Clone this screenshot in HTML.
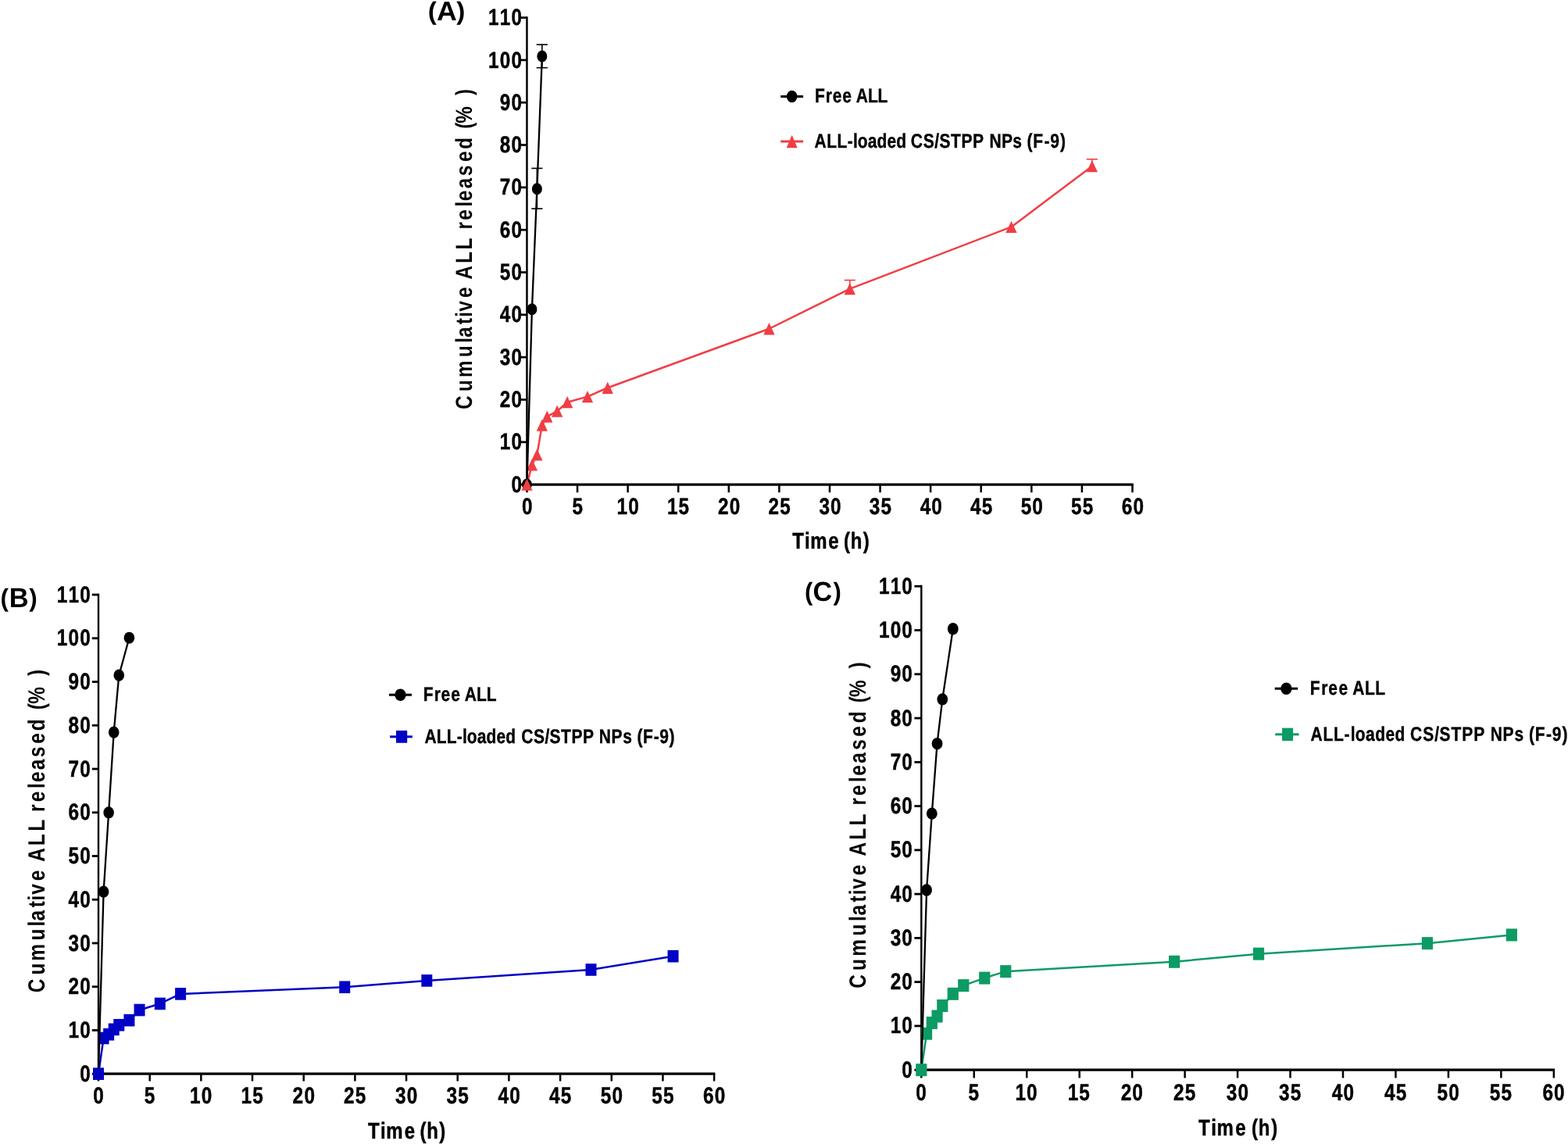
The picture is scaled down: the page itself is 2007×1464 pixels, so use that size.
<!DOCTYPE html>
<html lang="en"><head><meta charset="utf-8"><title>Cumulative ALL released - release profiles</title>
<style>html,body{margin:0;padding:0;background:#fff}body{width:2007px;height:1464px;overflow:hidden}svg{display:block}text{font-family:"Liberation Sans", sans-serif;font-weight:700;white-space:pre;text-rendering:geometricPrecision}</style></head><body>
<svg xmlns="http://www.w3.org/2000/svg" width="2007" height="1464" viewBox="0 0 2007 1464">
<rect width="2007" height="1464" fill="#fff"/>
<g>
<line x1="674.45" y1="21.23" x2="674.45" y2="621.75" stroke="#000" stroke-width="2.5"/>
<line x1="673.2" y1="620.1" x2="1450.72" y2="620.1" stroke="#000" stroke-width="3.3"/>
<line x1="666.55" y1="620.1" x2="674.45" y2="620.1" stroke="#000" stroke-width="2.7"/>
<line x1="666.55" y1="565.78" x2="674.45" y2="565.78" stroke="#000" stroke-width="2.7"/>
<line x1="666.55" y1="511.46" x2="674.45" y2="511.46" stroke="#000" stroke-width="2.7"/>
<line x1="666.55" y1="457.14" x2="674.45" y2="457.14" stroke="#000" stroke-width="2.7"/>
<line x1="666.55" y1="402.82" x2="674.45" y2="402.82" stroke="#000" stroke-width="2.7"/>
<line x1="666.55" y1="348.5" x2="674.45" y2="348.5" stroke="#000" stroke-width="2.7"/>
<line x1="666.55" y1="294.18" x2="674.45" y2="294.18" stroke="#000" stroke-width="2.7"/>
<line x1="666.55" y1="239.86" x2="674.45" y2="239.86" stroke="#000" stroke-width="2.7"/>
<line x1="666.55" y1="185.54" x2="674.45" y2="185.54" stroke="#000" stroke-width="2.7"/>
<line x1="666.55" y1="131.22" x2="674.45" y2="131.22" stroke="#000" stroke-width="2.7"/>
<line x1="666.55" y1="76.9" x2="674.45" y2="76.9" stroke="#000" stroke-width="2.7"/>
<line x1="666.55" y1="22.58" x2="674.45" y2="22.58" stroke="#000" stroke-width="2.7"/>
<line x1="674.45" y1="620.1" x2="674.45" y2="630.2" stroke="#000" stroke-width="2.5"/>
<line x1="739.04" y1="620.1" x2="739.04" y2="630.2" stroke="#000" stroke-width="2.5"/>
<line x1="803.62" y1="620.1" x2="803.62" y2="630.2" stroke="#000" stroke-width="2.5"/>
<line x1="868.21" y1="620.1" x2="868.21" y2="630.2" stroke="#000" stroke-width="2.5"/>
<line x1="932.79" y1="620.1" x2="932.79" y2="630.2" stroke="#000" stroke-width="2.5"/>
<line x1="997.38" y1="620.1" x2="997.38" y2="630.2" stroke="#000" stroke-width="2.5"/>
<line x1="1061.96" y1="620.1" x2="1061.96" y2="630.2" stroke="#000" stroke-width="2.5"/>
<line x1="1126.55" y1="620.1" x2="1126.55" y2="630.2" stroke="#000" stroke-width="2.5"/>
<line x1="1191.13" y1="620.1" x2="1191.13" y2="630.2" stroke="#000" stroke-width="2.5"/>
<line x1="1255.72" y1="620.1" x2="1255.72" y2="630.2" stroke="#000" stroke-width="2.5"/>
<line x1="1320.3" y1="620.1" x2="1320.3" y2="630.2" stroke="#000" stroke-width="2.5"/>
<line x1="1384.88" y1="620.1" x2="1384.88" y2="630.2" stroke="#000" stroke-width="2.5"/>
<line x1="1449.47" y1="620.1" x2="1449.47" y2="630.2" stroke="#000" stroke-width="2.5"/>
<text transform="translate(654.4 629.7) scale(0.82 1)" font-size="29.6" x="0" stroke="#000" stroke-width="0.5">0</text>
<text transform="translate(639.75 575.38) scale(0.82 1)" font-size="29.6" x="0 17.87" stroke="#000" stroke-width="0.5">10</text>
<text transform="translate(639.75 521.06) scale(0.82 1)" font-size="29.6" x="0 17.87" stroke="#000" stroke-width="0.5">20</text>
<text transform="translate(639.75 466.74) scale(0.82 1)" font-size="29.6" x="0 17.87" stroke="#000" stroke-width="0.5">30</text>
<text transform="translate(639.75 412.42) scale(0.82 1)" font-size="29.6" x="0 17.87" stroke="#000" stroke-width="0.5">40</text>
<text transform="translate(639.75 358.1) scale(0.82 1)" font-size="29.6" x="0 17.87" stroke="#000" stroke-width="0.5">50</text>
<text transform="translate(639.75 303.78) scale(0.82 1)" font-size="29.6" x="0 17.87" stroke="#000" stroke-width="0.5">60</text>
<text transform="translate(639.75 249.46) scale(0.82 1)" font-size="29.6" x="0 17.87" stroke="#000" stroke-width="0.5">70</text>
<text transform="translate(639.75 195.14) scale(0.82 1)" font-size="29.6" x="0 17.87" stroke="#000" stroke-width="0.5">80</text>
<text transform="translate(639.75 140.82) scale(0.82 1)" font-size="29.6" x="0 17.87" stroke="#000" stroke-width="0.5">90</text>
<text transform="translate(625.1 86.5) scale(0.82 1)" font-size="29.6" x="0 17.87 35.74" stroke="#000" stroke-width="0.5">100</text>
<text transform="translate(625.1 32.18) scale(0.82 1)" font-size="29.6" x="0 17.87 35.74" stroke="#000" stroke-width="0.5">110</text>
<text transform="translate(668.01 658.1) scale(0.82 1)" font-size="29.6" x="0" stroke="#000" stroke-width="0.5">0</text>
<text transform="translate(732.54 658.1) scale(0.82 1)" font-size="29.6" x="0" stroke="#000" stroke-width="0.5">5</text>
<text transform="translate(789.56 658.1) scale(0.82 1)" font-size="29.6" x="0 17.87" stroke="#000" stroke-width="0.5">10</text>
<text transform="translate(853.96 658.1) scale(0.82 1)" font-size="29.6" x="0 17.87" stroke="#000" stroke-width="0.5">15</text>
<text transform="translate(919.09 658.1) scale(0.82 1)" font-size="29.6" x="0 17.87" stroke="#000" stroke-width="0.5">20</text>
<text transform="translate(983.49 658.1) scale(0.82 1)" font-size="29.6" x="0 17.87" stroke="#000" stroke-width="0.5">25</text>
<text transform="translate(1048.38 658.1) scale(0.82 1)" font-size="29.6" x="0 17.87" stroke="#000" stroke-width="0.5">30</text>
<text transform="translate(1112.78 658.1) scale(0.82 1)" font-size="29.6" x="0 17.87" stroke="#000" stroke-width="0.5">35</text>
<text transform="translate(1177.67 658.1) scale(0.82 1)" font-size="29.6" x="0 17.87" stroke="#000" stroke-width="0.5">40</text>
<text transform="translate(1242.07 658.1) scale(0.82 1)" font-size="29.6" x="0 17.87" stroke="#000" stroke-width="0.5">45</text>
<text transform="translate(1306.66 658.1) scale(0.82 1)" font-size="29.6" x="0 17.87" stroke="#000" stroke-width="0.5">50</text>
<text transform="translate(1371.06 658.1) scale(0.82 1)" font-size="29.6" x="0 17.87" stroke="#000" stroke-width="0.5">55</text>
<text transform="translate(1435.77 658.1) scale(0.82 1)" font-size="29.6" x="0 17.87" stroke="#000" stroke-width="0.5">60</text>
<text transform="translate(1014.16 701.7) scale(0.82 1)" font-size="29.2" x="0 19.31 28.1 56.21 72.45 80.3 90.96 110.51" stroke="#000" stroke-width="0.5">Time (h)</text>
<text transform="translate(604.3 528) rotate(-90) scale(0.815 1)" font-size="29.7" x="5.28 33.1 55.25 87.09 109.66 117.97 138.54 149.9 159 180.46 196.98 209.12 234.78 256.25 274.39 287.88 302.24 323.34 332.11 351.78 371.77 393.77 413.89 432.03 445.58 454.33 480.74 498.09">Cumulative ALL released (% )</text>
<text transform="translate(547.68 25.9) scale(1.04 1)" font-size="34.4"><tspan x="0" y="-0.5" font-size="32">(</tspan><tspan x="10.86" y="0">A</tspan><tspan x="35.19" y="-0.5" font-size="32">)</tspan></text>
<polyline points="674.45,620.1 680.91,594.9 687.37,581.86 693.83,544.16 700.28,533.19 713.2,526.13 726.12,514.72 751.95,507.66 777.79,496.25 984.46,420.75 1087.79,369.68 1294.47,290.38 1397.8,212.7" fill="none" stroke="#f03e44" stroke-width="2.5" stroke-linejoin="round"/>
<line x1="1087.79" y1="369.68" x2="1087.79" y2="358.55" stroke="#f03e44" stroke-width="1.6"/>
<line x1="1080.69" y1="358.55" x2="1094.89" y2="358.55" stroke="#f03e44" stroke-width="1.6"/>
<line x1="1397.8" y1="212.7" x2="1397.8" y2="203.74" stroke="#f03e44" stroke-width="1.6"/>
<line x1="1390.7" y1="203.74" x2="1404.9" y2="203.74" stroke="#f03e44" stroke-width="1.6"/>
<polygon points="680.91,587.25 688.06,602.55 673.76,602.55" fill="#f03e44"/>
<polygon points="687.37,574.21 694.52,589.51 680.22,589.51" fill="#f03e44"/>
<polygon points="693.83,536.51 700.98,551.81 686.68,551.81" fill="#f03e44"/>
<polygon points="700.28,525.54 707.43,540.84 693.13,540.84" fill="#f03e44"/>
<polygon points="713.2,518.48 720.35,533.78 706.05,533.78" fill="#f03e44"/>
<polygon points="726.12,507.07 733.27,522.37 718.97,522.37" fill="#f03e44"/>
<polygon points="751.95,500.01 759.1,515.31 744.8,515.31" fill="#f03e44"/>
<polygon points="777.79,488.6 784.94,503.9 770.64,503.9" fill="#f03e44"/>
<polygon points="984.46,413.1 991.61,428.4 977.31,428.4" fill="#f03e44"/>
<polygon points="1087.79,362.03 1094.94,377.33 1080.64,377.33" fill="#f03e44"/>
<polygon points="1294.47,282.73 1301.62,298.03 1287.32,298.03" fill="#f03e44"/>
<polygon points="1397.8,205.05 1404.95,220.35 1390.65,220.35" fill="#f03e44"/>
<polyline points="674.45,620.1 680.91,395.76 687.37,241.71 693.83,72.01" fill="none" stroke="#000" stroke-width="2.3" stroke-linejoin="round"/>
<line x1="687.37" y1="267.02" x2="687.37" y2="215.42" stroke="#000" stroke-width="1.6"/>
<line x1="680.27" y1="267.02" x2="694.47" y2="267.02" stroke="#000" stroke-width="1.6"/>
<line x1="680.27" y1="215.42" x2="694.47" y2="215.42" stroke="#000" stroke-width="1.6"/>
<line x1="693.83" y1="86.68" x2="693.83" y2="57.07" stroke="#000" stroke-width="1.6"/>
<line x1="686.73" y1="86.68" x2="700.93" y2="86.68" stroke="#000" stroke-width="1.6"/>
<line x1="686.73" y1="57.07" x2="700.93" y2="57.07" stroke="#000" stroke-width="1.6"/>
<ellipse cx="680.91" cy="395.76" rx="6.5" ry="7.5" fill="#000"/>
<ellipse cx="687.37" cy="241.71" rx="6.5" ry="7.5" fill="#000"/>
<ellipse cx="693.83" cy="72.01" rx="6.5" ry="7.5" fill="#000"/>
<ellipse cx="674.45" cy="620.1" rx="6.5" ry="7.5" fill="#000"/>
<polygon points="674.45,612.45 681.6,627.75 667.3,627.75" fill="#f03e44"/>
<line x1="999.2" y1="123.5" x2="1028.1" y2="123.5" stroke="#000" stroke-width="3"/>
<ellipse cx="1013.65" cy="123.5" rx="6.8" ry="7.8" fill="#000"/>
<line x1="999.2" y1="181" x2="1028.1" y2="181" stroke="#f03e44" stroke-width="3"/>
<polygon points="1013.65,172.85 1020.65,189.15 1006.65,189.15" fill="#f03e44"/>
<text transform="translate(1042.94 131.1) scale(0.82 1)" font-size="25.6" x="0 16.92 27.7 43.11 57.35 64.56 82.89 98.4" stroke="#000" stroke-width="0.4">Free ALL</text>
<text transform="translate(1042.53 188.6) scale(0.82 1)" font-size="25.6" x="0 19.11 35.28 51.44 60.31 67.48 83.24 97.58 113.34 127.69 143.33 150.41 169.72 187.56 194.99 212.83 229.17 247.01 264.08 273.06 291.99 309.47 323.71 331.74 341.16 358.44 367.86 383.59" stroke="#000" stroke-width="0.4">ALL-loaded CS/STPP NPs (F-9)</text>
</g>
<g>
<line x1="126" y1="759.66" x2="126" y2="1375.85" stroke="#000" stroke-width="2.4"/>
<line x1="124.8" y1="1374.2" x2="915.35" y2="1374.2" stroke="#000" stroke-width="3.3"/>
<line x1="117.8" y1="1374.2" x2="126" y2="1374.2" stroke="#000" stroke-width="2.8"/>
<line x1="117.8" y1="1318.46" x2="126" y2="1318.46" stroke="#000" stroke-width="2.8"/>
<line x1="117.8" y1="1262.72" x2="126" y2="1262.72" stroke="#000" stroke-width="2.8"/>
<line x1="117.8" y1="1206.98" x2="126" y2="1206.98" stroke="#000" stroke-width="2.8"/>
<line x1="117.8" y1="1151.24" x2="126" y2="1151.24" stroke="#000" stroke-width="2.8"/>
<line x1="117.8" y1="1095.5" x2="126" y2="1095.5" stroke="#000" stroke-width="2.8"/>
<line x1="117.8" y1="1039.76" x2="126" y2="1039.76" stroke="#000" stroke-width="2.8"/>
<line x1="117.8" y1="984.02" x2="126" y2="984.02" stroke="#000" stroke-width="2.8"/>
<line x1="117.8" y1="928.28" x2="126" y2="928.28" stroke="#000" stroke-width="2.8"/>
<line x1="117.8" y1="872.54" x2="126" y2="872.54" stroke="#000" stroke-width="2.8"/>
<line x1="117.8" y1="816.8" x2="126" y2="816.8" stroke="#000" stroke-width="2.8"/>
<line x1="117.8" y1="761.06" x2="126" y2="761.06" stroke="#000" stroke-width="2.8"/>
<line x1="126" y1="1374.2" x2="126" y2="1383.6" stroke="#000" stroke-width="2.5"/>
<line x1="191.68" y1="1374.2" x2="191.68" y2="1383.6" stroke="#000" stroke-width="2.5"/>
<line x1="257.35" y1="1374.2" x2="257.35" y2="1383.6" stroke="#000" stroke-width="2.5"/>
<line x1="323.02" y1="1374.2" x2="323.02" y2="1383.6" stroke="#000" stroke-width="2.5"/>
<line x1="388.7" y1="1374.2" x2="388.7" y2="1383.6" stroke="#000" stroke-width="2.5"/>
<line x1="454.38" y1="1374.2" x2="454.38" y2="1383.6" stroke="#000" stroke-width="2.5"/>
<line x1="520.05" y1="1374.2" x2="520.05" y2="1383.6" stroke="#000" stroke-width="2.5"/>
<line x1="585.72" y1="1374.2" x2="585.72" y2="1383.6" stroke="#000" stroke-width="2.5"/>
<line x1="651.4" y1="1374.2" x2="651.4" y2="1383.6" stroke="#000" stroke-width="2.5"/>
<line x1="717.08" y1="1374.2" x2="717.08" y2="1383.6" stroke="#000" stroke-width="2.5"/>
<line x1="782.75" y1="1374.2" x2="782.75" y2="1383.6" stroke="#000" stroke-width="2.5"/>
<line x1="848.42" y1="1374.2" x2="848.42" y2="1383.6" stroke="#000" stroke-width="2.5"/>
<line x1="914.1" y1="1374.2" x2="914.1" y2="1383.6" stroke="#000" stroke-width="2.5"/>
<text transform="translate(102.36 1383.75) scale(0.82 1)" font-size="29.7" x="0" stroke="#000" stroke-width="0.5">0</text>
<text transform="translate(87.57 1328.01) scale(0.82 1)" font-size="29.7" x="0 18.03" stroke="#000" stroke-width="0.5">10</text>
<text transform="translate(87.57 1272.27) scale(0.82 1)" font-size="29.7" x="0 18.03" stroke="#000" stroke-width="0.5">20</text>
<text transform="translate(87.57 1216.53) scale(0.82 1)" font-size="29.7" x="0 18.03" stroke="#000" stroke-width="0.5">30</text>
<text transform="translate(87.57 1160.79) scale(0.82 1)" font-size="29.7" x="0 18.03" stroke="#000" stroke-width="0.5">40</text>
<text transform="translate(87.57 1105.05) scale(0.82 1)" font-size="29.7" x="0 18.03" stroke="#000" stroke-width="0.5">50</text>
<text transform="translate(87.57 1049.31) scale(0.82 1)" font-size="29.7" x="0 18.03" stroke="#000" stroke-width="0.5">60</text>
<text transform="translate(87.57 993.57) scale(0.82 1)" font-size="29.7" x="0 18.03" stroke="#000" stroke-width="0.5">70</text>
<text transform="translate(87.57 937.83) scale(0.82 1)" font-size="29.7" x="0 18.03" stroke="#000" stroke-width="0.5">80</text>
<text transform="translate(87.57 882.09) scale(0.82 1)" font-size="29.7" x="0 18.03" stroke="#000" stroke-width="0.5">90</text>
<text transform="translate(72.79 826.35) scale(0.82 1)" font-size="29.7" x="0 18.03 36.06" stroke="#000" stroke-width="0.5">100</text>
<text transform="translate(72.79 770.61) scale(0.82 1)" font-size="29.7" x="0 18.03 36.06" stroke="#000" stroke-width="0.5">110</text>
<text transform="translate(119.24 1412.1) scale(0.82 1)" font-size="29.7" x="0" stroke="#000" stroke-width="0.5">0</text>
<text transform="translate(184.86 1412.1) scale(0.82 1)" font-size="29.7" x="0" stroke="#000" stroke-width="0.5">5</text>
<text transform="translate(242.9 1412.1) scale(0.82 1)" font-size="29.7" x="0 18.03" stroke="#000" stroke-width="0.5">10</text>
<text transform="translate(308.39 1412.1) scale(0.82 1)" font-size="29.7" x="0 18.03" stroke="#000" stroke-width="0.5">15</text>
<text transform="translate(374.61 1412.1) scale(0.82 1)" font-size="29.7" x="0 18.03" stroke="#000" stroke-width="0.5">20</text>
<text transform="translate(440.1 1412.1) scale(0.82 1)" font-size="29.7" x="0 18.03" stroke="#000" stroke-width="0.5">25</text>
<text transform="translate(506.08 1412.1) scale(0.82 1)" font-size="29.7" x="0 18.03" stroke="#000" stroke-width="0.5">30</text>
<text transform="translate(571.57 1412.1) scale(0.82 1)" font-size="29.7" x="0 18.03" stroke="#000" stroke-width="0.5">35</text>
<text transform="translate(637.55 1412.1) scale(0.82 1)" font-size="29.7" x="0 18.03" stroke="#000" stroke-width="0.5">40</text>
<text transform="translate(703.05 1412.1) scale(0.82 1)" font-size="29.7" x="0 18.03" stroke="#000" stroke-width="0.5">45</text>
<text transform="translate(768.72 1412.1) scale(0.82 1)" font-size="29.7" x="0 18.03" stroke="#000" stroke-width="0.5">50</text>
<text transform="translate(834.21 1412.1) scale(0.82 1)" font-size="29.7" x="0 18.03" stroke="#000" stroke-width="0.5">55</text>
<text transform="translate(900.01 1412.1) scale(0.82 1)" font-size="29.7" x="0 18.03" stroke="#000" stroke-width="0.5">60</text>
<text transform="translate(471.06 1456.65) scale(0.82 1)" font-size="29.2" x="0 19.52 28.4 56.82 73.06 80.91 91.56 111.12" stroke="#000" stroke-width="0.5">Time (h)</text>
<text transform="translate(57 1274.45) rotate(-90) scale(0.815 1)" font-size="30" x="5.2 33.01 54.87 86.94 109.19 117.82 138.76 149.74 159.22 180.62 197.3 210.67 235.82 258.48 276.81 289.04 304.42 325.81 335.47 354.82 374.94 395.83 416.13 434.46 449.21 458.43 485.1 502.28">Cumulative ALL released (% )</text>
<text transform="translate(0.39 776.6) scale(0.98 1)" font-size="35.2"><tspan x="0" y="-0.9" font-size="32">(</tspan><tspan x="11.58" y="0">B</tspan><tspan x="37.51" y="-0.9" font-size="32">)</tspan></text>
<polyline points="126,1374.2 132.57,1328.49 139.13,1323.76 145.7,1317.35 152.27,1311.77 165.41,1305.64 178.54,1292.54 204.81,1284.46 231.08,1271.92 441.24,1263.28 546.32,1254.92 756.48,1240.98 861.56,1223.7" fill="none" stroke="#0202c4" stroke-width="2.5" stroke-linejoin="round"/>
<rect x="125.57" y="1320.69" width="14" height="15.6" fill="#0202c4"/>
<rect x="132.13" y="1315.96" width="14" height="15.6" fill="#0202c4"/>
<rect x="138.7" y="1309.55" width="14" height="15.6" fill="#0202c4"/>
<rect x="145.27" y="1303.97" width="14" height="15.6" fill="#0202c4"/>
<rect x="158.41" y="1297.84" width="14" height="15.6" fill="#0202c4"/>
<rect x="171.54" y="1284.74" width="14" height="15.6" fill="#0202c4"/>
<rect x="197.81" y="1276.66" width="14" height="15.6" fill="#0202c4"/>
<rect x="224.08" y="1264.12" width="14" height="15.6" fill="#0202c4"/>
<rect x="434.24" y="1255.48" width="14" height="15.6" fill="#0202c4"/>
<rect x="539.32" y="1247.12" width="14" height="15.6" fill="#0202c4"/>
<rect x="749.48" y="1233.18" width="14" height="15.6" fill="#0202c4"/>
<rect x="854.56" y="1215.9" width="14" height="15.6" fill="#0202c4"/>
<polyline points="126,1374.2 132.57,1141.21 139.13,1039.76 145.7,937.2 152.27,864.18 165.41,816.24" fill="none" stroke="#000" stroke-width="2.3" stroke-linejoin="round"/>
<ellipse cx="132.57" cy="1141.21" rx="6.8" ry="7.6" fill="#000"/>
<ellipse cx="139.13" cy="1039.76" rx="6.8" ry="7.6" fill="#000"/>
<ellipse cx="145.7" cy="937.2" rx="6.8" ry="7.6" fill="#000"/>
<ellipse cx="152.27" cy="864.18" rx="6.8" ry="7.6" fill="#000"/>
<ellipse cx="165.41" cy="816.24" rx="6.8" ry="7.6" fill="#000"/>
<rect x="119" y="1366.4" width="14" height="15.6" fill="#0202c4"/>
<line x1="498" y1="889.2" x2="527" y2="889.2" stroke="#000" stroke-width="3"/>
<ellipse cx="512.5" cy="889.2" rx="7.2" ry="7.8" fill="#000"/>
<line x1="499.1" y1="942.8" x2="527.9" y2="942.8" stroke="#0202c4" stroke-width="3"/>
<rect x="507" y="934.9" width="14.2" height="15.8" fill="#0202c4"/>
<text transform="translate(541.74 897) scale(0.82 1)" font-size="25.6" x="0 16.99 27.82 43.29 57.53 64.77 83.19 98.77" stroke="#000" stroke-width="0.4">Free ALL</text>
<text transform="translate(543.38 950.6) scale(0.82 1)" font-size="25.6" x="0 18.73 34.57 50.41 59.27 66.45 82.21 96.57 112.33 126.69 142.33 150.96 170.17 187.92 195.32 213.06 229.32 247.07 264.14 272.51 291.76 309.53 323.77 331.8 340.92 357.65 366.77 382" stroke="#000" stroke-width="0.4">ALL-loaded CS/STPP NPs (F-9)</text>
</g>
<g>
<line x1="1179.3" y1="748.83" x2="1179.3" y2="1370.85" stroke="#000" stroke-width="2.4"/>
<line x1="1178.1" y1="1369.2" x2="1990.07" y2="1369.2" stroke="#000" stroke-width="3.3"/>
<line x1="1170.4" y1="1369.2" x2="1179.3" y2="1369.2" stroke="#000" stroke-width="2.8"/>
<line x1="1170.4" y1="1312.93" x2="1179.3" y2="1312.93" stroke="#000" stroke-width="2.8"/>
<line x1="1170.4" y1="1256.66" x2="1179.3" y2="1256.66" stroke="#000" stroke-width="2.8"/>
<line x1="1170.4" y1="1200.39" x2="1179.3" y2="1200.39" stroke="#000" stroke-width="2.8"/>
<line x1="1170.4" y1="1144.12" x2="1179.3" y2="1144.12" stroke="#000" stroke-width="2.8"/>
<line x1="1170.4" y1="1087.85" x2="1179.3" y2="1087.85" stroke="#000" stroke-width="2.8"/>
<line x1="1170.4" y1="1031.58" x2="1179.3" y2="1031.58" stroke="#000" stroke-width="2.8"/>
<line x1="1170.4" y1="975.31" x2="1179.3" y2="975.31" stroke="#000" stroke-width="2.8"/>
<line x1="1170.4" y1="919.04" x2="1179.3" y2="919.04" stroke="#000" stroke-width="2.8"/>
<line x1="1170.4" y1="862.77" x2="1179.3" y2="862.77" stroke="#000" stroke-width="2.8"/>
<line x1="1170.4" y1="806.5" x2="1179.3" y2="806.5" stroke="#000" stroke-width="2.8"/>
<line x1="1170.4" y1="750.23" x2="1179.3" y2="750.23" stroke="#000" stroke-width="2.8"/>
<line x1="1179.3" y1="1369.2" x2="1179.3" y2="1379.5" stroke="#000" stroke-width="2.5"/>
<line x1="1246.76" y1="1369.2" x2="1246.76" y2="1379.5" stroke="#000" stroke-width="2.5"/>
<line x1="1314.22" y1="1369.2" x2="1314.22" y2="1379.5" stroke="#000" stroke-width="2.5"/>
<line x1="1381.68" y1="1369.2" x2="1381.68" y2="1379.5" stroke="#000" stroke-width="2.5"/>
<line x1="1449.14" y1="1369.2" x2="1449.14" y2="1379.5" stroke="#000" stroke-width="2.5"/>
<line x1="1516.6" y1="1369.2" x2="1516.6" y2="1379.5" stroke="#000" stroke-width="2.5"/>
<line x1="1584.06" y1="1369.2" x2="1584.06" y2="1379.5" stroke="#000" stroke-width="2.5"/>
<line x1="1651.52" y1="1369.2" x2="1651.52" y2="1379.5" stroke="#000" stroke-width="2.5"/>
<line x1="1718.98" y1="1369.2" x2="1718.98" y2="1379.5" stroke="#000" stroke-width="2.5"/>
<line x1="1786.44" y1="1369.2" x2="1786.44" y2="1379.5" stroke="#000" stroke-width="2.5"/>
<line x1="1853.9" y1="1369.2" x2="1853.9" y2="1379.5" stroke="#000" stroke-width="2.5"/>
<line x1="1921.36" y1="1369.2" x2="1921.36" y2="1379.5" stroke="#000" stroke-width="2.5"/>
<line x1="1988.82" y1="1369.2" x2="1988.82" y2="1379.5" stroke="#000" stroke-width="2.5"/>
<text transform="translate(1154.36 1378.75) scale(0.82 1)" font-size="29.7" x="0" stroke="#000" stroke-width="0.5">0</text>
<text transform="translate(1139.69 1322.48) scale(0.82 1)" font-size="29.7" x="0 17.89" stroke="#000" stroke-width="0.5">10</text>
<text transform="translate(1139.69 1266.21) scale(0.82 1)" font-size="29.7" x="0 17.89" stroke="#000" stroke-width="0.5">20</text>
<text transform="translate(1139.69 1209.94) scale(0.82 1)" font-size="29.7" x="0 17.89" stroke="#000" stroke-width="0.5">30</text>
<text transform="translate(1139.69 1153.67) scale(0.82 1)" font-size="29.7" x="0 17.89" stroke="#000" stroke-width="0.5">40</text>
<text transform="translate(1139.69 1097.4) scale(0.82 1)" font-size="29.7" x="0 17.89" stroke="#000" stroke-width="0.5">50</text>
<text transform="translate(1139.69 1041.13) scale(0.82 1)" font-size="29.7" x="0 17.89" stroke="#000" stroke-width="0.5">60</text>
<text transform="translate(1139.69 984.86) scale(0.82 1)" font-size="29.7" x="0 17.89" stroke="#000" stroke-width="0.5">70</text>
<text transform="translate(1139.69 928.59) scale(0.82 1)" font-size="29.7" x="0 17.89" stroke="#000" stroke-width="0.5">80</text>
<text transform="translate(1139.69 872.32) scale(0.82 1)" font-size="29.7" x="0 17.89" stroke="#000" stroke-width="0.5">90</text>
<text transform="translate(1125.02 816.05) scale(0.82 1)" font-size="29.7" x="0 17.89 35.78" stroke="#000" stroke-width="0.5">100</text>
<text transform="translate(1125.02 759.78) scale(0.82 1)" font-size="29.7" x="0 17.89 35.78" stroke="#000" stroke-width="0.5">110</text>
<text transform="translate(1172.14 1408.4) scale(0.82 1)" font-size="29.7" x="0" stroke="#000" stroke-width="0.5">0</text>
<text transform="translate(1239.54 1408.4) scale(0.82 1)" font-size="29.7" x="0" stroke="#000" stroke-width="0.5">5</text>
<text transform="translate(1299.42 1408.4) scale(0.82 1)" font-size="29.7" x="0 17.89" stroke="#000" stroke-width="0.5">10</text>
<text transform="translate(1366.7 1408.4) scale(0.82 1)" font-size="29.7" x="0 17.89" stroke="#000" stroke-width="0.5">15</text>
<text transform="translate(1434.71 1408.4) scale(0.82 1)" font-size="29.7" x="0 17.89" stroke="#000" stroke-width="0.5">20</text>
<text transform="translate(1501.99 1408.4) scale(0.82 1)" font-size="29.7" x="0 17.89" stroke="#000" stroke-width="0.5">25</text>
<text transform="translate(1569.75 1408.4) scale(0.82 1)" font-size="29.7" x="0 17.89" stroke="#000" stroke-width="0.5">30</text>
<text transform="translate(1637.03 1408.4) scale(0.82 1)" font-size="29.7" x="0 17.89" stroke="#000" stroke-width="0.5">35</text>
<text transform="translate(1704.79 1408.4) scale(0.82 1)" font-size="29.7" x="0 17.89" stroke="#000" stroke-width="0.5">40</text>
<text transform="translate(1772.07 1408.4) scale(0.82 1)" font-size="29.7" x="0 17.89" stroke="#000" stroke-width="0.5">45</text>
<text transform="translate(1839.53 1408.4) scale(0.82 1)" font-size="29.7" x="0 17.89" stroke="#000" stroke-width="0.5">50</text>
<text transform="translate(1906.81 1408.4) scale(0.82 1)" font-size="29.7" x="0 17.89" stroke="#000" stroke-width="0.5">55</text>
<text transform="translate(1974.39 1408.4) scale(0.82 1)" font-size="29.7" x="0 17.89" stroke="#000" stroke-width="0.5">60</text>
<text transform="translate(1534.06 1452.65) scale(0.82 1)" font-size="29.2" x="0 19.73 28.7 57.43 73.67 82.73 93.61 113.56" stroke="#000" stroke-width="0.5">Time (h)</text>
<text transform="translate(1107.9 1269) rotate(-90) scale(0.815 1)" font-size="29.9" x="5.21 33.04 55.47 87.83 110.43 119.57 140.65 151.81 161.03 182.43 199.06 212.98 238.39 260.79 279.05 292.5 307.82 328.71 338.9 358.56 379.45 400.34 421.75 440.01 453.71 462.65 489.23 507.32">Cumulative ALL released (% )</text>
<text transform="translate(1029.9 768.9) scale(0.97 1)" font-size="35.2"><tspan x="0" y="-1.2" font-size="32">(</tspan><tspan x="10.82" y="0">C</tspan><tspan x="37.73" y="-1.2" font-size="32">)</tspan></text>
<polyline points="1179.3,1369.2 1186.05,1322.72 1192.79,1308.99 1199.54,1300.55 1206.28,1287.05 1219.78,1271.85 1233.27,1261.16 1260.25,1251.6 1287.24,1243.16 1503.11,1230.78 1611.04,1220.65 1826.92,1207.14 1934.85,1196.45" fill="none" stroke="#0c9b64" stroke-width="2.5" stroke-linejoin="round"/>
<rect x="1178.95" y="1314.72" width="14.2" height="16" fill="#0c9b64"/>
<rect x="1185.69" y="1300.99" width="14.2" height="16" fill="#0c9b64"/>
<rect x="1192.44" y="1292.55" width="14.2" height="16" fill="#0c9b64"/>
<rect x="1199.18" y="1279.05" width="14.2" height="16" fill="#0c9b64"/>
<rect x="1212.68" y="1263.85" width="14.2" height="16" fill="#0c9b64"/>
<rect x="1226.17" y="1253.16" width="14.2" height="16" fill="#0c9b64"/>
<rect x="1253.15" y="1243.6" width="14.2" height="16" fill="#0c9b64"/>
<rect x="1280.14" y="1235.16" width="14.2" height="16" fill="#0c9b64"/>
<rect x="1496.01" y="1222.78" width="14.2" height="16" fill="#0c9b64"/>
<rect x="1603.94" y="1212.65" width="14.2" height="16" fill="#0c9b64"/>
<rect x="1819.82" y="1199.14" width="14.2" height="16" fill="#0c9b64"/>
<rect x="1927.75" y="1188.45" width="14.2" height="16" fill="#0c9b64"/>
<polyline points="1179.3,1369.2 1186.05,1139.06 1192.79,1041.15 1199.54,951.68 1206.28,894.84 1219.78,804.81" fill="none" stroke="#000" stroke-width="2.3" stroke-linejoin="round"/>
<ellipse cx="1186.05" cy="1139.06" rx="6.9" ry="7.7" fill="#000"/>
<ellipse cx="1192.79" cy="1041.15" rx="6.9" ry="7.7" fill="#000"/>
<ellipse cx="1199.54" cy="951.68" rx="6.9" ry="7.7" fill="#000"/>
<ellipse cx="1206.28" cy="894.84" rx="6.9" ry="7.7" fill="#000"/>
<ellipse cx="1219.78" cy="804.81" rx="6.9" ry="7.7" fill="#000"/>
<rect x="1172.2" y="1361.2" width="14.2" height="16" fill="#0c9b64"/>
<line x1="1631.7" y1="881.2" x2="1661.1" y2="881.2" stroke="#000" stroke-width="3"/>
<ellipse cx="1646.4" cy="881.2" rx="7.2" ry="7.8" fill="#000"/>
<line x1="1632.3" y1="939.8" x2="1662.6" y2="939.8" stroke="#0c9b64" stroke-width="3"/>
<rect x="1641.05" y="931.6" width="14" height="16.4" fill="#0c9b64"/>
<text transform="translate(1676.74 889.3) scale(0.82 1)" font-size="25.6" x="0 17.6 28.82 44.84 59.08 66.57 85.73 101.94" stroke="#000" stroke-width="0.4">Free ALL</text>
<text transform="translate(1677.53 948.2) scale(0.82 1)" font-size="25.6" x="0 19.5 35.99 52.48 62.32 69.71 85.97 100.76 117.01 131.81 147.45 155.59 175.41 193.71 201.33 219.63 236.39 254.69 271.76 280.62 300.12 318.13 332.36 340.88 350.32 367.61 377.05 392.8" stroke="#000" stroke-width="0.4">ALL-loaded CS/STPP NPs (F-9)</text>
</g>
</svg></body></html>
